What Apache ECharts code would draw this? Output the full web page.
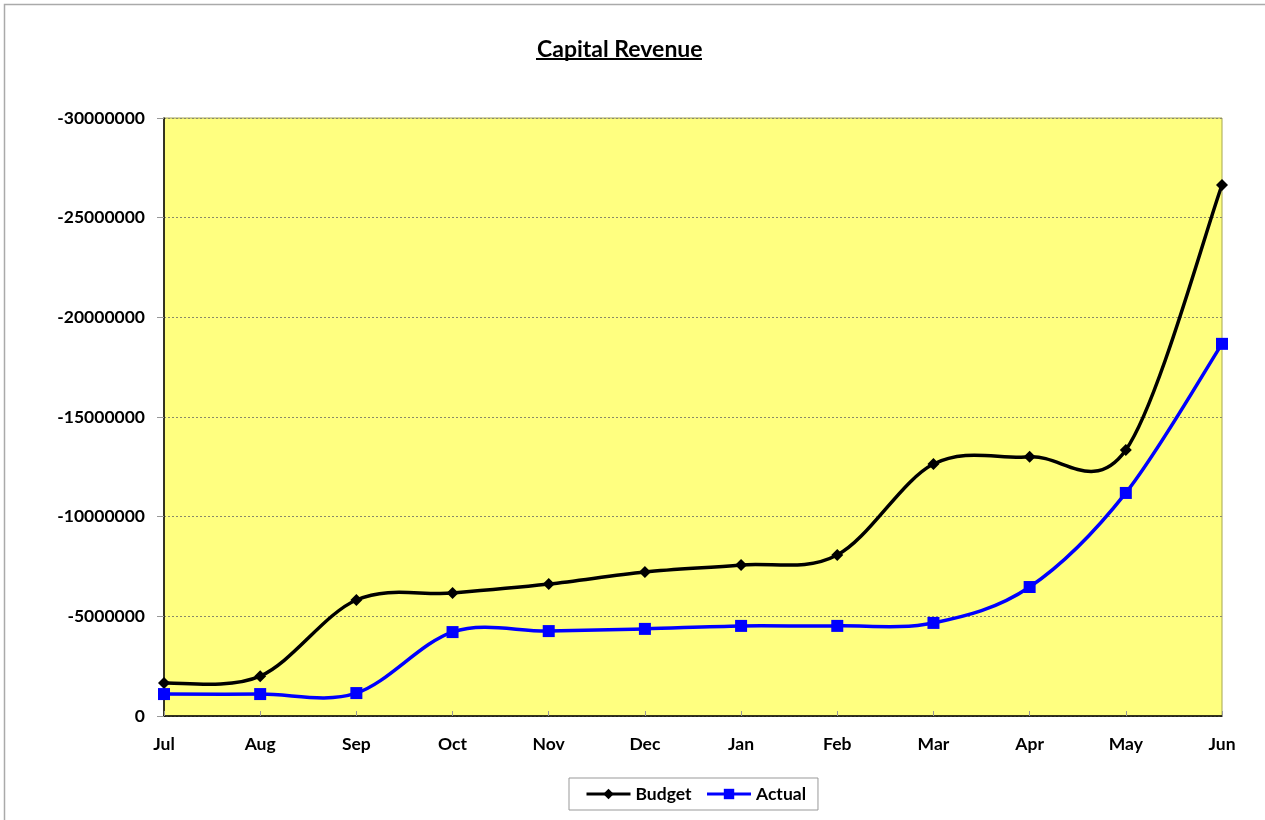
<!DOCTYPE html>
<html>
<head>
<meta charset="utf-8">
<script src="https://cdn.jsdelivr.net/npm/echarts@6/dist/echarts.min.js"></script>
<style>html,body{margin:0;padding:0;background:#fff}#c{width:1265px;height:820px}</style>
</head>
<body>
<div id="c"></div>
<script>
const months = ['Jul','Aug','Sep','Oct','Nov','Dec','Jan','Feb','Mar','Apr','May','Jun'];
const budget = [-1650000,-2000000,-5820000,-6170000,-6620000,-7220000,-7580000,-8080000,-12640000,-13000000,-13350000,-26640000];
const actual = [-1100000,-1100000,-1150000,-4210000,-4260000,-4370000,-4520000,-4520000,-4670000,-6470000,-11190000,-18670000];
const titleText = 'Capital Revenue';
const fontFam = 'Lato, "Open Sans", sans-serif';

// Excel-like smoothed curve (Catmull-Rom style), positioned through the chart's own axes
function curveSeries(name, vals, color) {
  return {
    name: name, type: 'custom', silent: true, z: 2,
    data: vals.map((v, i) => [i, v]),
    renderItem: function (params, api) {
      const i = params.dataIndex;
      if (i >= vals.length - 1) return null;
      const n = vals.length;
      const P = k => { const kk = Math.max(0, Math.min(n - 1, k)); return api.coord([kk, vals[kk]]); };
      const p0 = P(i - 1), p1 = P(i), p2 = P(i + 1), p3 = P(i + 2);
      return {
        type: 'bezierCurve',
        shape: {
          x1: p1[0], y1: p1[1], x2: p2[0], y2: p2[1],
          cpx1: p1[0] + (p2[0] - p0[0]) / 6, cpy1: p1[1] + (p2[1] - p0[1]) / 6,
          cpx2: p2[0] - (p3[0] - p1[0]) / 6, cpy2: p2[1] - (p3[1] - p1[1]) / 6
        },
        style: { stroke: color, lineWidth: 3.5, fill: null, lineCap: 'round' }
      };
    }
  };
}

const chart = echarts.init(document.getElementById('c'));
chart.setOption({
  animation: false,
  backgroundColor: '#fff',
  title: {
    text: titleText,
    left: 532,
    top: 33,
    textStyle: { fontFamily: fontFam, fontWeight: 'bold', fontSize: 23, color: '#000' }
  },
  graphic: [
    { type: 'rect', shape: { x: 4.5, y: 4.5, width: 1300, height: 900 }, style: { fill: null, stroke: '#aaa', lineWidth: 1.5 }, silent: true, z: -1 },
    { type: 'line', shape: { x1: 536, y1: 59, x2: 702, y2: 59 }, style: { stroke: '#000', lineWidth: 2 } }
  ],
  legend: {
    left: 569, top: 778,
    padding: [7, 12, 7, 16],
    borderColor: '#999', borderWidth: 1,
    itemWidth: 44, itemHeight: 13, itemGap: 14,
    textStyle: { fontFamily: fontFam, fontWeight: 'bold', fontSize: 17.5, color: '#000' },
    data: [
      { name: 'Budget', lineStyle: { width: 3, opacity: 1, color: '#000' } },
      { name: 'Actual', lineStyle: { width: 3, opacity: 1, color: '#0000ff' } }
    ]
  },
  grid: {
    left: 164, right: 43, top: 118, bottom: 104,
    show: true, backgroundColor: '#FFFF80', borderColor: '#a6a650', borderWidth: 1
  },
  xAxis: {
    type: 'category', data: months, boundaryGap: false,
    axisLine: { lineStyle: { color: '#000', width: 1.5 } },
    axisTick: { inside: true, length: 5, lineStyle: { color: '#999' } },
    axisLabel: { margin: 19, fontFamily: fontFam, fontWeight: 'bold', fontSize: 17.5, color: '#000' }
  },
  yAxis: {
    type: 'value', inverse: true, min: -30000000, max: 0, interval: 5000000,
    axisLine: { show: true, lineStyle: { color: '#000', width: 1.5 } },
    axisTick: { show: true, length: 7, lineStyle: { color: '#999' } },
    axisLabel: { margin: 19, fontFamily: fontFam, fontWeight: 'bold', fontSize: 17.5, color: '#000', formatter: v => String(v) },
    splitLine: { lineStyle: { color: '#8a8a6a', type: [2, 2], width: 1 } }
  },
  series: [
    curveSeries('Budget curve', budget, '#000'),
    curveSeries('Actual curve', actual, '#0000ff'),
    {
      name: 'Budget', type: 'line', data: budget, z: 3,
      symbol: 'diamond', symbolSize: 12,
      lineStyle: { color: '#000', width: 3, opacity: 0 }, itemStyle: { color: '#000' }
    },
    {
      name: 'Actual', type: 'line', data: actual, z: 3,
      symbol: 'rect', symbolSize: 12,
      lineStyle: { color: '#0000ff', width: 3, opacity: 0 }, itemStyle: { color: '#0000ff' }
    }
  ]
});
</script>
</body>
</html>
